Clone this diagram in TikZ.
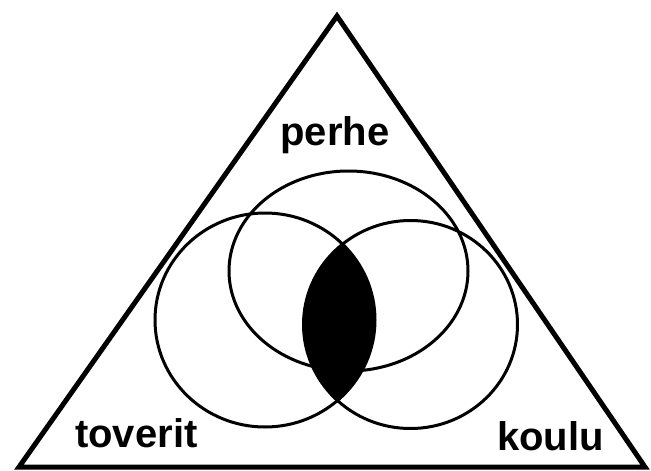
\documentclass[tikz,border=0pt]{standalone}
\usepackage{fontspec}
\setmainfont{Liberation Sans}
\begin{document}
\begin{tikzpicture}[x=1pt,y=-1pt,
  frame/.style={line width=5pt, line join=miter},
  ring/.style={line width=3pt},
  label/.style={inner sep=0pt, font=\fontsize{40}{48}\selectfont\bfseries}]
\useasboundingbox (0,0) rectangle (651,471);
% triangle
\coordinate (apex) at (337,16);
\coordinate (bl) at (19,467);
\coordinate (br) at (645,467);
\draw[frame] (apex) -- (br) -- (bl) -- cycle;
% filled lens (toverit ∩ koulu)
\begin{scope}
  \clip (265,320) ellipse [x radius=110pt, y radius=107pt];
  \fill (410.5,324.5) ellipse [x radius=107pt, y radius=104pt];
\end{scope}
% circles
\draw[ring] (348.5,271) ellipse [x radius=119.5pt, y radius=100pt];
\draw[ring] (265,320) ellipse [x radius=110pt, y radius=107pt];
\draw[ring] (410.5,324.5) ellipse [x radius=107pt, y radius=104pt];
% labels
\node[label, anchor=base] (perhe) at (335,145) {perhe};
\node[label, anchor=base west] (toverit) at (75,447) {toverit};
\node[label, anchor=base west] (koulu) at (497,450) {koulu};
\end{tikzpicture}
\end{document}
